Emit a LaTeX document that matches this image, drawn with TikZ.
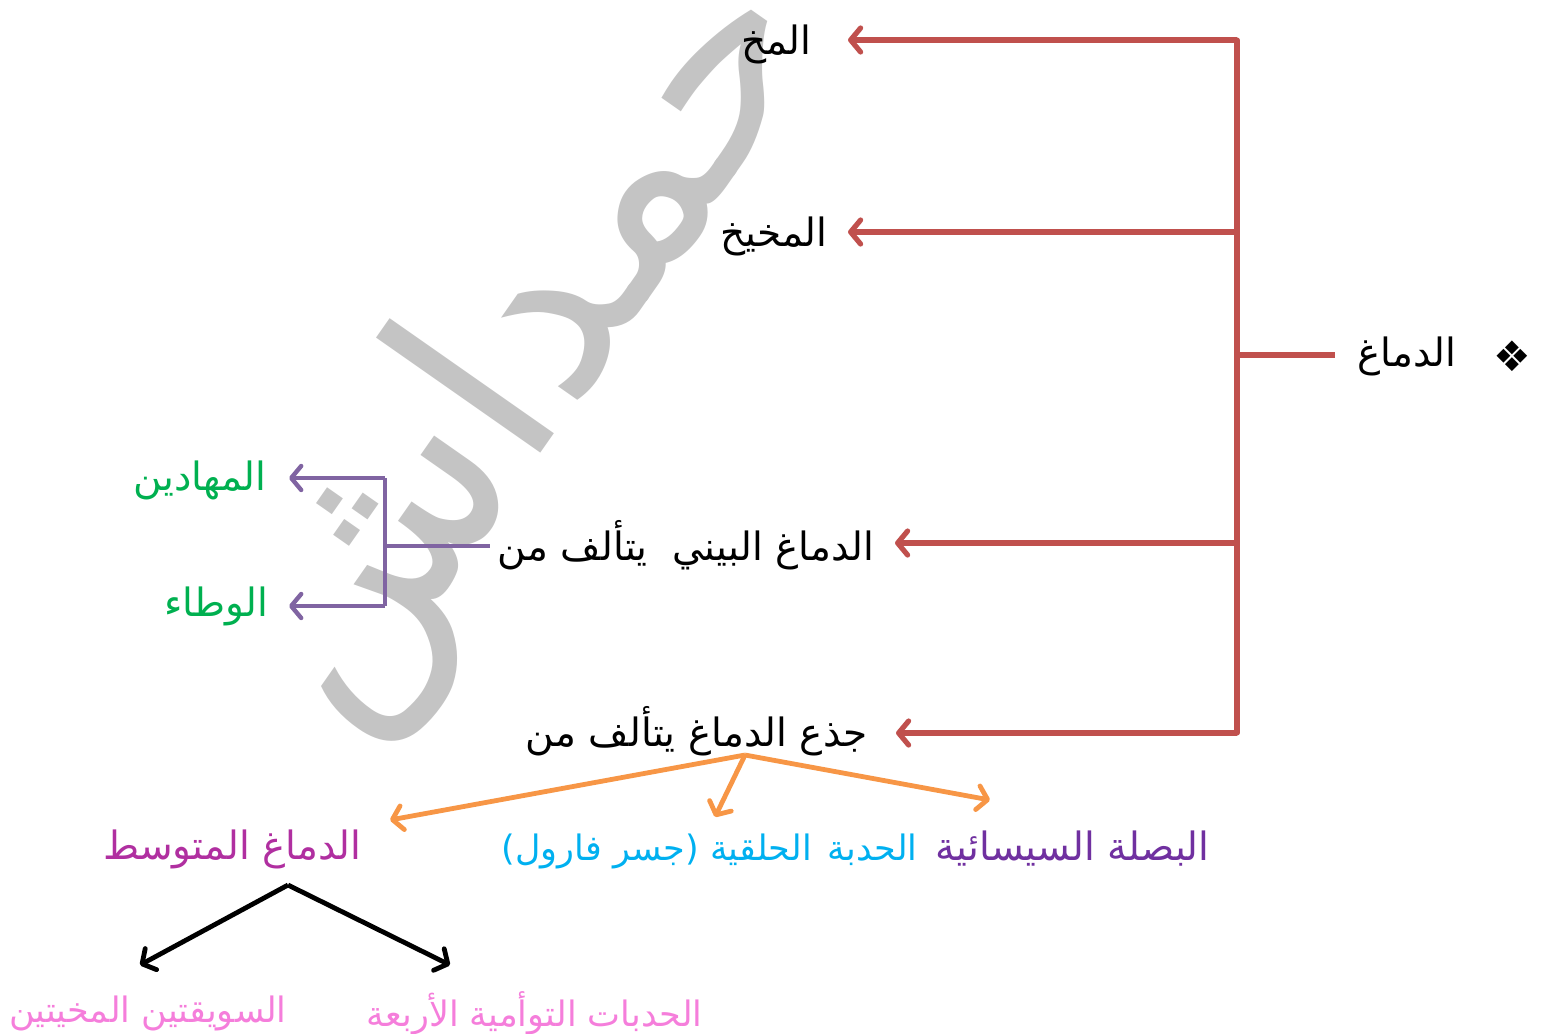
\documentclass[tikz,border=0pt]{standalone}
\usepackage{fontspec}
\usetikzlibrary{arrows.meta}
\TeXXeTstate=1
\newfontfamily\arabicfont[Script=Arabic]{DejaVu Sans}
\newfontfamily\symfont{DejaVu Sans}
\definecolor{cred}{HTML}{C0504D}
\definecolor{corange}{HTML}{F79646}
\definecolor{cpurple}{HTML}{8064A2}
\definecolor{cgreen}{HTML}{00B050}
\definecolor{ctpurple}{HTML}{7030A0}
\definecolor{ccyan}{HTML}{00B0F0}
\definecolor{cmagenta}{HTML}{B02FA0}
\definecolor{cpink}{HTML}{F57EDB}
\definecolor{cwm}{HTML}{C4C4C4}
\tikzset{
  txt/.style={inner sep=0pt, font=\arabicfont\fontsize{19.5pt}{22pt}\selectfont},
  smalltxt/.style={inner sep=0pt, font=\arabicfont\fontsize{17.5pt}{20pt}\selectfont},
  tip/.style={-{Straight Barb[length=5pt,width=12pt,line cap=round,line join=round]}},
  redline/.style={draw=cred, line width=2.6pt},
  redarr/.style={redline, tip},
  orarr/.style={draw=corange, line width=2.4pt, tip},
  purline/.style={draw=cpurple, line width=2.2pt},
  purarr/.style={purline, tip},
  blkarr/.style={draw=black, line width=2.4pt, tip},
}
\begin{document}
\begin{tikzpicture}[x=0.5pt,y=-0.5pt]
\useasboundingbox (0,0) rectangle (1550,1033);
% watermark
\node[rotate=55, text=cwm, inner sep=0pt, font=\arabicfont\fontsize{132pt}{132pt}\selectfont] (wm) at (530,350) {\beginR حمداش\endR};
% text nodes
\node[txt, anchor=east] (brain) at (1457,356) {\beginR الدماغ\endR};
\node[inner sep=0pt, font=\symfont\fontsize{21pt}{21pt}\selectfont] (bullet) at (1512,356) {❖};
\node[txt, anchor=east] (mokh) at (812,44) {\beginR المخ\endR};
\node[txt, anchor=east] (mokhaikh) at (828,236) {\beginR المخيخ\endR};
\node[txt, anchor=east] (bayni) at (875,545) {\beginR الدماغ البيني\ \ يتألف من\endR};
\node[txt, anchor=east] (jith) at (868,731) {\beginR جذع الدماغ يتألف من\endR};
\node[txt, anchor=east, text=cgreen] (mahadin) at (267,480) {\beginR المهادين\endR};
\node[txt, anchor=east, text=cgreen] (wata) at (269,606) {\beginR الوطاء\endR};
\node[txt, anchor=east, text=ctpurple] (basala) at (1210,849) {\beginR البصلة السيسائية\endR};
\node[smalltxt, anchor=east, text=ccyan] (hadaba) at (918,851) {\beginR الحدبة\hspace{8pt}الحلقية (جسر فارول)\endR};
\node[txt, anchor=east, text=cmagenta] (mutawasit) at (362,849) {\beginR الدماغ المتوسط\endR};
\node[smalltxt, anchor=east, text=cpink] (suwayq) at (287,1013) {\beginR السويقتين المخيتين\endR};
\node[smalltxt, anchor=east, text=cpink] (hadabat) at (703,1013) {\beginR الحدبات التوأمية الأربعة\endR};
% red tree
\coordinate (rtop) at (1237,40);
\coordinate (rbr) at (1237,355);
\coordinate (r2) at (1237,232);
\coordinate (r3) at (1237,543);
\coordinate (rbot) at (1237,733);
\draw[redline, line cap=round] (rtop) -- (rbot);
\draw[redline, shorten >=11pt] (rbr) -- (rbr -| brain.west);
\draw[redarr, shorten >=18pt] (rtop) -- (rtop -| mokh.east);
\draw[redarr, shorten >=10pt] (r2) -- (r2 -| mokhaikh.east);
\draw[redarr, shorten >=10pt] (r3) -- (r3 -| bayni.east);
\draw[redarr, shorten >=14pt] (rbot) -- (rbot -| jith.east);
% purple tree
\coordinate (pj) at (385,546);
\coordinate (ptop) at (385,478);
\coordinate (pbot) at (385,606);
\draw[purline, shorten <=4pt] (pj -| bayni.west) -- (pj);
\draw[purline] (ptop) -- (pbot);
\draw[purarr, shorten >=11pt] (ptop) -- (ptop -| mahadin.east);
\draw[purarr, shorten >=10pt] (pbot) -- (pbot -| wata.east);
% orange tree
\coordinate (oj) at (745,755);
\coordinate (oa) at (390,820);
\coordinate (ob) at (715,817);
\coordinate (oc) at (990,800);
\draw[orarr] (oj) -- (oa);
\draw[orarr] (oj) -- (ob);
\draw[orarr] (oj) -- (oc);
% black tree
\coordinate (bj) at (288,885);
\coordinate (ba) at (140,965);
\coordinate (bb) at (450,965);
\draw[blkarr] (bj) -- (ba);
\draw[blkarr] (bj) -- (bb);
\end{tikzpicture}
\end{document}
